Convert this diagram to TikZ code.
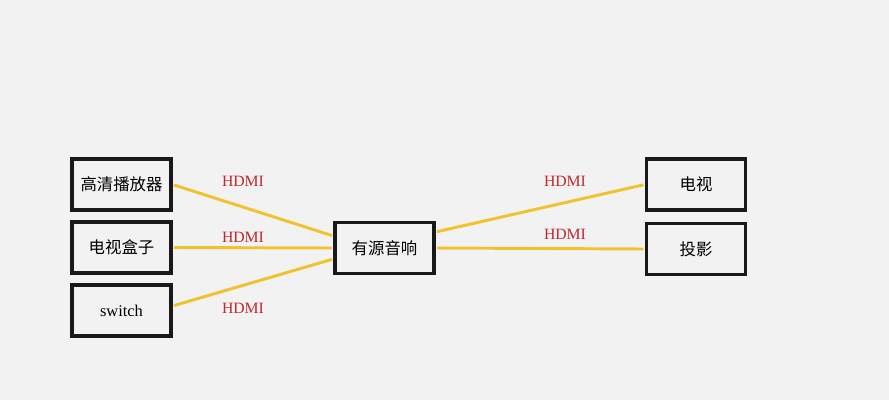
\documentclass[tikz,border=0pt]{standalone}
\usepackage{fontspec}
\setmainfont{Liberation Serif}
\newfontfamily\cjk{Noto Sans CJK SC}
\usepackage{xcolor}
\usepackage{tikz}
\usetikzlibrary{positioning}

\definecolor{bgray}{HTML}{F2F2F2}
\definecolor{cable}{HTML}{F2C12E}
\definecolor{hdmired}{HTML}{C0282D}

\begin{document}
\begin{tikzpicture}[
  x=0.75pt,y=-0.75pt,
  dev/.style={rectangle,draw=black!90,line width=2.3pt,fill=bgray,
    minimum width=99*0.75pt,minimum height=51*0.75pt,inner sep=0pt,
    font=\fontsize{12.3}{14}\selectfont},
  wire/.style={draw=cable,line width=2.2pt,shorten <=1.15pt,shorten >=1.15pt},
  lbl/.style={text=hdmired,font=\fontsize{11.8}{14}\selectfont},
]
\useasboundingbox[fill=bgray] (0,0) rectangle (889,400);

% sources
\node [dev] (player) at (121.5,184.5) {\cjk 高清播放器};
\node [dev] (tvbox) at (121.5,247.5) {\cjk 电视盒子};
\node [dev] (switch) at (121.5,310.5) {switch};

% amplifier
\node [dev] (amp) at (384.5,248) {\cjk 有源音响};

% sinks
\node [dev] (tv) at (696,184.5) {\cjk 电视};
\node [dev] (proj) at (696,249) {\cjk 投影};

% cables
\draw [wire] (player.east) -- ([yshift=9pt]amp.west);
\draw [wire] (tvbox.east) -- (amp.west);
\draw [wire] ([yshift=3.4pt]switch.east) -- ([yshift=-8.2pt]amp.west);
\draw [wire] ([yshift=12pt]amp.east) -- (tv.west);
\draw [wire] (amp.east) -- (proj.west);

% labels
\node [lbl] (l1) at (243,181) {HDMI};
\node [lbl] (l2) at (243,237) {HDMI};
\node [lbl] (l3) at (243,308) {HDMI};
\node [lbl] (l4) at (565,181) {HDMI};
\node [lbl] (l5) at (565,234) {HDMI};
\end{tikzpicture}
\end{document}
